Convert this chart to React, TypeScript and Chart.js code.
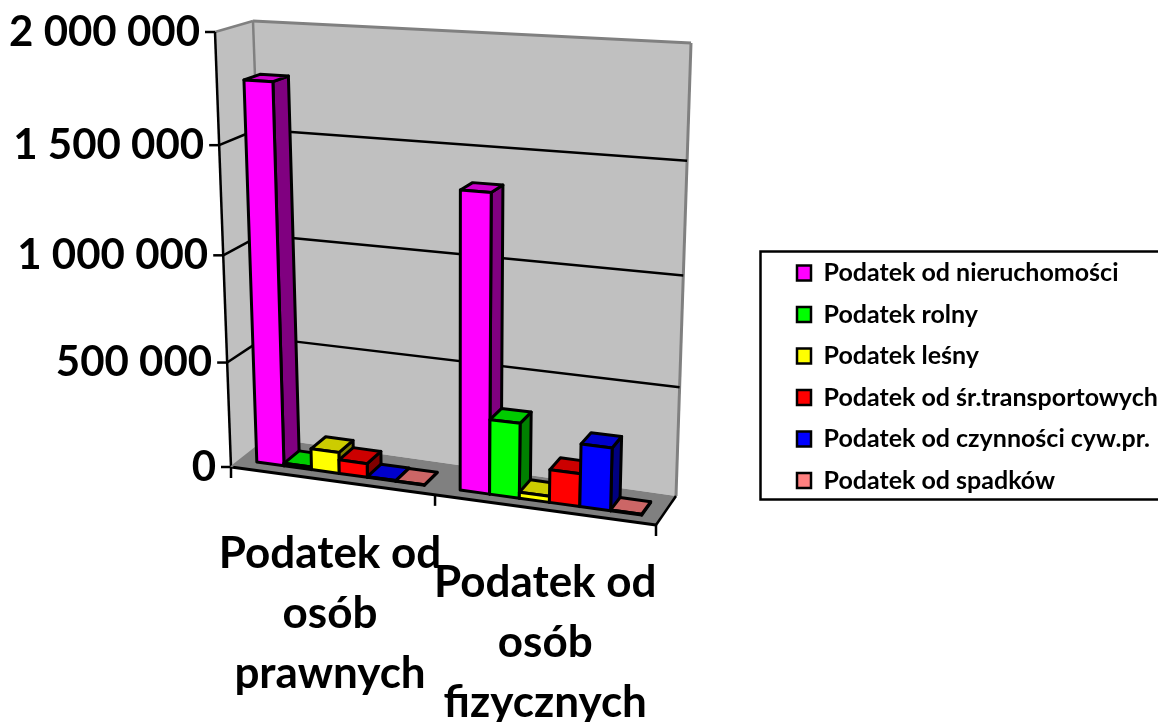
import React, { useEffect, useRef } from "react";
import { Chart, registerables, LinearScale, CategoryScale } from "chart.js";

const categories = [["Podatek od", "osób", "prawnych"], ["Podatek od", "osób", "fizycznych"]];
const seriesNames = [
  "Podatek od nieruchomości",
  "Podatek rolny",
  "Podatek leśny",
  "Podatek od śr.transportowych",
  "Podatek od czynności cyw.pr.",
  "Podatek od spadków",
];
const nieruchomosci = [1780000, 1360000];
const rolny = [12000, 345000];
const lesny = [100000, 28000];
const transportowe = [65000, 150000];
const czynnosci = [3000, 285000];
const spadki = [1500, 4000];
const seriesValues = [nieruchomosci, rolny, lesny, transportowe, czynnosci, spadki];
const frontColors = ["#FF00FF", "#00FF00", "#FFFF00", "#FF0000", "#0000FF", "#FF8080"];
const topColors = ["#CC00CC", "#00CC00", "#CCCC00", "#CC0000", "#0000CC", "#CC6666"];
const sideColors = ["#800080", "#008000", "#808000", "#800000", "#000080", "#804040"];
const yMax = 2000000;
const yStep = 500000;

// corners of the 3D box on screen: [x, y] at (u, v) on the front (f) and back (b) planes
const box = {
  f00: [231, 467], f01: [215, 32], f10: [656, 525], f11: [671, 55],
  b00: [268, 438], b01: [253, 21], b10: [676, 496], b11: [691, 43],
};
const warp = (t: number, k: number) => t / (1 + k * (1 - t));
function project(u: number, v: number, d: number): [number, number] {
  const a = warp(u, 0.083);
  const b = warp(v, 0.055);
  const mix = (i: number) => {
    const f = (1 - a) * (1 - b) * box.f00[i] + (1 - a) * b * box.f01[i] + a * (1 - b) * box.f10[i] + a * b * box.f11[i];
    const k = (1 - a) * (1 - b) * box.b00[i] + (1 - a) * b * box.b01[i] + a * (1 - b) * box.b10[i] + a * b * box.b11[i];
    return f * (1 - d) + k * d;
  };
  return [mix(0), mix(1)];
}
const barFront = 0.25;
const barBack = 0.68;

class BoxLinearScale extends (LinearScale as any) {
  static id = "boxLinear";
  static defaults = (LinearScale as any).defaults;
  _computeLabelArea() { return undefined; }
  _computeLabelItems(area: any) {
    const items = super._computeLabelItems(area);
    items.forEach((item: any, i: number) => {
      const v = (this.bottom - this.getPixelForTick(i)) / (this.bottom - this.top);
      const [x, y] = project(0, v, 0);
      item.options.translation = [x - 15, y];
      item.options.textAlign = "right";
    });
    return items;
  }
}
class BoxCategoryScale extends (CategoryScale as any) {
  static id = "boxCategory";
  static defaults = (CategoryScale as any).defaults;
  _computeLabelArea() { return undefined; }
  _computeLabelItems(area: any) {
    const items = super._computeLabelItems(area);
    items.forEach((item: any, i: number) => {
      const u = (this.getPixelForTick(i) - this.left) / (this.right - this.left);
      const [x, y] = project(u, 0, 0);
      item.options.translation = [x - 1 + i * 3, y + 73];
      item.options.textBaseline = "middle";
      item.textOffset = 0;
    });
    return items;
  }
}
Chart.register(...registerables, BoxLinearScale as any, BoxCategoryScale as any);

function poly(ctx: CanvasRenderingContext2D, pts: [number, number][], fill: string | null, stroke: string | null, lw = 3) {
  ctx.beginPath();
  pts.forEach((p, i) => (i ? ctx.lineTo(p[0], p[1]) : ctx.moveTo(p[0], p[1])));
  ctx.closePath();
  if (fill) { ctx.fillStyle = fill; ctx.fill(); }
  if (stroke) { ctx.strokeStyle = stroke; ctx.lineWidth = lw; ctx.lineJoin = "round"; ctx.stroke(); }
}
function line(ctx: CanvasRenderingContext2D, a: number[], b: number[], color: string, lw: number) {
  ctx.beginPath();
  ctx.moveTo(a[0], a[1]);
  ctx.lineTo(b[0], b[1]);
  ctx.strokeStyle = color;
  ctx.lineWidth = lw;
  ctx.stroke();
}

const box3d = {
  id: "box3d",
  beforeDatasetDraw() { return false; },
  beforeDatasetsDraw(chart: any) {
    const ctx = chart.ctx as CanvasRenderingContext2D;
    const yS = chart.scales.y;
    const xS = chart.scales.x;
    const wall = "#C0C0C0";
    const edge = "#808080";
    ctx.save();
    poly(ctx, [project(0, 0, 0), project(0, 1, 0), project(0, 1, 1), project(0, 0, 1)], wall, null);
    poly(ctx, [project(0, 0, 1), project(0, 1, 1), project(1, 1, 1), project(1, 0, 1)], wall, null);
    poly(ctx, [project(0, 0, 0), project(1, 0, 0), project(1, 0, 1), project(0, 0, 1)], "#808080", null);
    line(ctx, project(0, 1, 0), project(0, 1, 1), edge, 2.5);
    line(ctx, project(0, 1, 1), project(1, 1, 1), edge, 3);
    line(ctx, project(0, 0, 1), project(0, 1, 1), edge, 2.5);
    line(ctx, project(1, 0, 1), project(1, 1, 1), edge, 3);
    yS.ticks.forEach((t: any) => {
      const v = (yS.bottom - yS.getPixelForValue(t.value)) / (yS.bottom - yS.top);
      const front = project(0, v, 0);
      line(ctx, [front[0] - 10, front[1]], front, "#000", 2.5);
      if (v > 0 && v < 1) {
        line(ctx, front, project(0, v, 1), "#000", 2.5);
        line(ctx, project(0, v, 1), project(1, v, 1), "#000", 2.5);
      }
    });
    line(ctx, project(0, 0, 0), project(0, 1, 0), "#000", 2.5);
    line(ctx, project(0, 0, 0), project(1, 0, 0), "#000", 3);
    line(ctx, project(0, 0, 0), project(0, 0, 1), "#808080", 2);
    line(ctx, project(1, 0, 0), project(1, 0, 1), "#000", 2.5);
    const count = xS.ticks.length;
    for (let i = 0; i <= count; i++) {
      const p = project(i / count, 0, 0);
      line(ctx, p, [p[0], p[1] + 11], "#000", 2.5);
    }
    ctx.restore();
  },
  afterDatasetsDraw(chart: any) {
    const ctx = chart.ctx as CanvasRenderingContext2D;
    const area = chart.chartArea;
    const nCat = chart.data.labels.length;
    ctx.save();
    for (let c = 0; c < nCat; c++) {
      chart.data.datasets.forEach((ds: any, s: number) => {
        const bar = chart.getDatasetMeta(s).data[c];
        const u0 = (bar.x - bar.width / 2 - area.left) / area.width;
        const u1 = (bar.x + bar.width / 2 - area.left) / area.width;
        const v0 = (area.bottom - bar.base) / area.height;
        const v1 = (area.bottom - bar.y) / area.height;
        const P = (u: number, v: number, d: number) => project(u, v, d);
        poly(ctx, [P(u1, v0, barFront), P(u1, v1, barFront), P(u1, v1, barBack), P(u1, v0, barBack)], sideColors[s], "#000");
        poly(ctx, [P(u0, v1, barFront), P(u1, v1, barFront), P(u1, v1, barBack), P(u0, v1, barBack)], topColors[s], "#000");
        poly(ctx, [P(u0, v0, barFront), P(u1, v0, barFront), P(u1, v1, barFront), P(u0, v1, barFront)], ds.backgroundColor, "#000");
      });
    }
    ctx.restore();
  },
  afterLayout(chart: any) {
    const lg = chart.legend;
    lg.left = 780.5;
    lg.right = 1158;
    lg.width = lg.right - lg.left;
    lg.top = 244;
    lg.bottom = 510;
    lg.height = lg.bottom - lg.top;
  },
  afterDraw(chart: any) {
    const ctx = chart.ctx as CanvasRenderingContext2D;
    ctx.save();
    ctx.strokeStyle = "#000";
    ctx.lineWidth = 2.5;
    ctx.strokeRect(789 - 28.5, 251.5, 500, 248);
    ctx.restore();
  },
};

export default function App() {
  const ref = useRef<HTMLCanvasElement>(null);
  useEffect(() => {
    const chart = new Chart(ref.current as HTMLCanvasElement, {
      type: "bar",
      data: {
        labels: categories as any,
        datasets: seriesNames.map((name, i) => ({
          label: name,
          data: seriesValues[i],
          backgroundColor: frontColors[i],
          borderColor: "#000",
          borderWidth: 2.5,
          categoryPercentage: 0.83,
          barPercentage: 1,
        })),
      },
      options: {
        animation: false,
        responsive: false,
        layout: { padding: { top: 20, bottom: 10, left: 0, right: 0 } },
        scales: {
          x: {
            type: "boxCategory" as any,
            offset: true,
            grid: { display: false },
            border: { display: false },
            ticks: {
              autoSkip: false,
              maxRotation: 0,
              minRotation: 0,
              color: "#000",
              font: { family: "Lato", weight: "700", size: 44, lineHeight: 1.37 },
            },
          },
          y: {
            type: "boxLinear" as any,
            min: 0,
            max: yMax,
            grid: { display: false },
            border: { display: false },
            ticks: {
              stepSize: yStep,
              color: "#000",
              font: { family: "Lato", weight: "700", size: 42 },
              callback: (v: any) => String(v).replace(/\B(?=(\d{3})+$)/g, " "),
            },
          },
        },
        plugins: {
          tooltip: { enabled: false },
          legend: {
            position: "right",
            align: "start",
            labels: {
              boxWidth: 14,
              boxHeight: 15,
              padding: 16.5,
              color: "#000",
              font: { family: "Lato", weight: "700", size: 25 },
            },
          },
        },
      },
      plugins: [box3d as any],
    });
    return () => chart.destroy();
  }, []);
  return (
    <div style={{ position: "fixed", left: 0, top: 0, width: 1158, height: 722, background: "#fff" }}>
      <canvas ref={ref} width={1158} height={722} style={{ display: "block", width: 1158, height: 722 }} />
    </div>
  );
}
